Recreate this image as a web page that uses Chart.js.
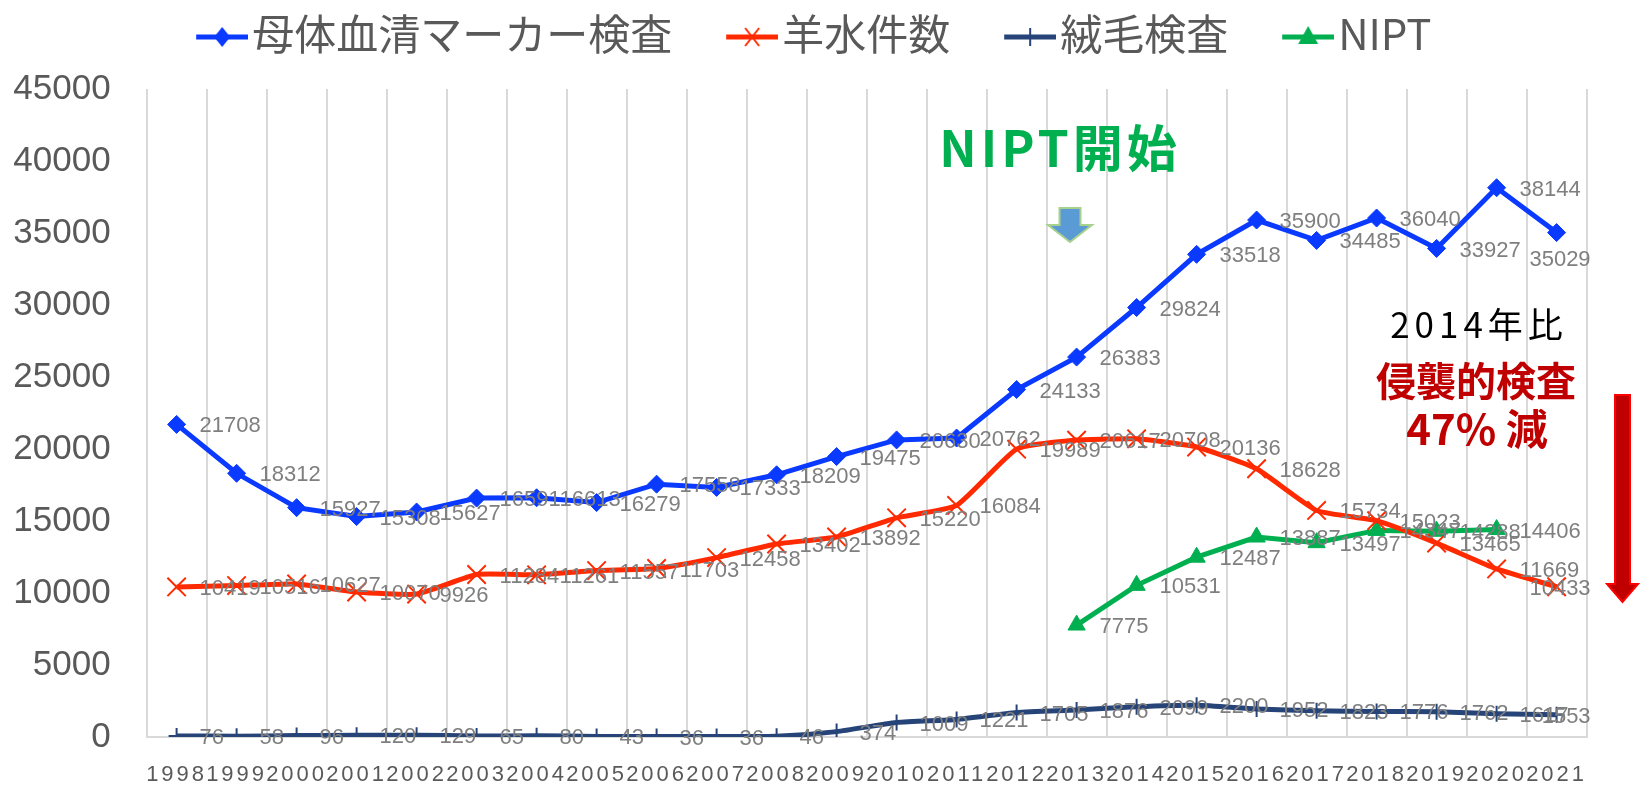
<!DOCTYPE html>
<html lang="ja">
<head>
<meta charset="utf-8">
<script src="https://cdn.jsdelivr.net/npm/chart.js@4.4.1/dist/chart.umd.min.js"></script>
<style>
  html, body { margin: 0; padding: 0; background: #fff; }
  #wrap { width: 1642px; height: 794px; position: relative; }
</style>
</head>
<body>
<div id="wrap"><canvas id="testChart"></canvas></div>
<script>
const years = ['1998','1999','2000','2001','2002','2003','2004','2005','2006','2007','2008','2009',
               '2010','2011','2012','2013','2014','2015','2016','2017','2018','2019','2020','2021'];
const serumMarker = [21708,18312,15927,15308,15627,16591,16613,16279,17558,17333,18209,19475,
                     20630,20762,24133,26383,29824,33518,35900,34485,36040,33927,38144,35029];
const amnio = [10419,10516,10627,10070,9926,11284,11261,11557,11703,12458,13402,13892,
               15220,16084,19989,20617,20708,20136,18628,15734,15023,13465,11669,10433];
const chorion = [76,58,96,120,129,65,80,43,36,36,46,374,
                 1009,1221,1705,1876,2099,2200,1952,1823,1776,1762,1617,1553];
const nipt = [null,null,null,null,null,null,null,null,null,null,null,null,
              null,null,null,7775,10531,12487,13887,13497,14347,14288,14406,null];
const seriesNames = ['母体血清マーカー検査','羊水件数','絨毛検査','NIPT'];
const yTicks = [0,5000,10000,15000,20000,25000,30000,35000,40000,45000];

const BLUE = '#0a3aff', RED = '#ff2a00', NAVY = '#264478', GREEN = '#00b050';

// legend marks: line + marker, drawn at the right side of a wider image
function legendMark(color, shape) {
  const c = document.createElement('canvas');
  c.width = 110; c.height = 34;
  const g = c.getContext('2d');
  const cx = 84, cy = 20;
  g.strokeStyle = color; g.fillStyle = color;
  g.lineWidth = 5;
  g.beginPath(); g.moveTo(58, cy); g.lineTo(110, cy); g.stroke();
  g.lineWidth = 2;
  g.beginPath();
  if (shape === 'diamond') {
    g.moveTo(cx, cy - 10); g.lineTo(cx + 8, cy); g.lineTo(cx, cy + 10); g.lineTo(cx - 8, cy);
    g.closePath(); g.fill();
  } else if (shape === 'x') {
    g.moveTo(cx - 7, cy - 9); g.lineTo(cx + 7, cy + 9);
    g.moveTo(cx + 7, cy - 9); g.lineTo(cx - 7, cy + 9); g.stroke();
  } else if (shape === 'plus') {
    g.moveTo(cx, cy - 9); g.lineTo(cx, cy + 9); g.stroke();
  } else {
    g.moveTo(cx, cy - 11); g.lineTo(cx + 10, cy + 7); g.lineTo(cx - 10, cy + 7);
    g.closePath(); g.fill();
  }
  return c;
}
const legendMarks = [legendMark(BLUE, 'diamond'), legendMark(RED, 'x'),
                     legendMark(NAVY, 'plus'), legendMark(GREEN, 'tri')];

// legend box reserves the whole band above the plot
const legendBand = {
  id: 'legendBand',
  beforeLayout(chart) {
    const lg = chart.legend;
    if (lg && !lg._bandPatched) {
      const fit = lg.fit;
      lg.fit = function () { fit.call(this); this.height = 89; };
      lg._bandPatched = true;
    }
  }
};

// value labels to the right of each point (Excel style)
const valueLabels = {
  id: 'valueLabels',
  beforeDraw(chart) { chart.ctx.letterSpacing = '0px'; },
  afterDatasetsDraw(chart) {
    const ctx = chart.ctx;
    const limit = chart.chartArea.right + 4;
    ctx.save();
    ctx.font = '22px "Liberation Sans"';
    ctx.fillStyle = '#7f7f7f';
    ctx.textBaseline = 'middle';
    ctx.textAlign = 'left';
    chart.data.datasets.forEach((ds, i) => {
      chart.getDatasetMeta(i).data.forEach((pt, j) => {
        const v = ds.data[j];
        if (v === null || v === undefined) return;
        const txt = String(v);
        const w = ctx.measureText(txt).width;
        let x = pt.x + 23, y = pt.y + 2;
        if (x + w > limit) {
          x = limit - w;
          if (i === 0) y += 25;
        }
        ctx.fillText(txt, x, y);
      });
    });
    ctx.restore();
    // spaced year labels on the x axis (drawn in a later layer)
    ctx.letterSpacing = '3px';
  },
  afterDraw(chart) {
    const ctx = chart.ctx;
    ctx.letterSpacing = '0px';
    ctx.save();
    ctx.textAlign = 'center';
    ctx.textBaseline = 'middle';

    ctx.font = 'bold 50px "Noto Sans CJK JP"';
    ctx.letterSpacing = '4px';
    ctx.fillStyle = GREEN;
    ctx.fillText('NIPT開始', 1060, 148);

    ctx.font = '35px "Noto Sans CJK JP"';
    ctx.letterSpacing = '5px';
    ctx.fillStyle = '#000';
    ctx.fillText('2014年比', 1479, 325);

    ctx.letterSpacing = '0px';
    ctx.font = 'bold 40px "Noto Sans CJK JP"';
    ctx.fillStyle = '#c00000';
    ctx.fillText('侵襲的検査', 1476, 381);
    ctx.font = 'bold 42px "Noto Sans CJK JP"';
    ctx.fillText('47% 減', 1477, 429);

    // small blue arrow under NIPT開始
    drawDownArrow(ctx, 1070, 208, 10.5, 22, 225, 242, '#5b9bd5', '#a9d18e');
    // long red arrow at the right
    drawDownArrow(ctx, 1622.5, 395, 7.5, 15.5, 584, 602, '#c00000', '#ff0000');
    ctx.restore();
  }
};

function drawDownArrow(ctx, cx, top, shaftHalf, headHalf, headTop, tip, fill, stroke) {
  ctx.beginPath();
  ctx.moveTo(cx - shaftHalf, top);
  ctx.lineTo(cx + shaftHalf, top);
  ctx.lineTo(cx + shaftHalf, headTop);
  ctx.lineTo(cx + headHalf, headTop);
  ctx.lineTo(cx, tip);
  ctx.lineTo(cx - headHalf, headTop);
  ctx.lineTo(cx - shaftHalf, headTop);
  ctx.closePath();
  ctx.fillStyle = fill;
  ctx.fill();
  ctx.lineWidth = 2;
  ctx.strokeStyle = stroke;
  ctx.stroke();
}

Chart.defaults.font.family = '"Liberation Sans"';

new Chart(document.getElementById('testChart'), {
  type: 'line',
  data: {
    labels: years,
    datasets: [
      { label: seriesNames[0], data: serumMarker, borderColor: BLUE, backgroundColor: BLUE,
        borderWidth: 5, pointStyle: 'rectRot', pointRadius: 9, pointBorderWidth: 1 },
      { label: seriesNames[1], data: amnio, borderColor: RED, backgroundColor: RED,
        borderWidth: 5, pointStyle: 'crossRot', pointRadius: 13, pointBorderWidth: 2, tension: 0.15 },
      { label: seriesNames[2], data: chorion, borderColor: NAVY, backgroundColor: NAVY,
        borderWidth: 5, pointStyle: 'cross', pointRadius: 8, pointBorderWidth: 2, tension: 0.2 },
      { label: seriesNames[3], data: nipt, borderColor: GREEN, backgroundColor: GREEN,
        borderWidth: 5, pointStyle: 'triangle', pointRadius: 10, pointBorderWidth: 1 }
    ]
  },
  options: {
    responsive: true,
    maintainAspectRatio: false,
    animation: false,
    layout: { padding: { left: 0, right: 55.4, top: 0, bottom: 0 } },
    plugins: {
      tooltip: { enabled: false },
      legend: {
        position: 'top',
        labels: {
          usePointStyle: true,
          pointStyleWidth: 76,
          padding: 13,
          color: '#595959',
          font: { size: 42, family: '"Noto Sans CJK JP"' },
          generateLabels(chart) {
            const items = Chart.defaults.plugins.legend.labels.generateLabels(chart);
            items.forEach((it, i) => { it.pointStyle = legendMarks[i]; });
            return items;
          }
        }
      }
    },
    scales: {
      x: {
        offset: true,
        grid: { display: true, offset: true, color: '#d9d9d9', lineWidth: 2, drawTicks: false },
        border: { display: true, color: '#d9d9d9', width: 2 },
        ticks: { z: 1, color: '#595959', font: { size: 22 }, padding: 25,
                 autoSkip: false, maxRotation: 0, minRotation: 0 },
        afterFit(s) { s.height = 51; }
      },
      y: {
        min: 0, max: 45000,
        grid: { display: false, drawTicks: false },
        border: { display: false },
        afterBuildTicks(s) { s.ticks = yTicks.map(v => ({ value: v })); },
        ticks: { color: '#595959', font: { size: 35 }, padding: 36,
                 callback: v => String(v) },
        afterFit(s) { s.width = 146.6; }
      }
    }
  },
  plugins: [legendBand, valueLabels]
});
</script>
</body>
</html>
